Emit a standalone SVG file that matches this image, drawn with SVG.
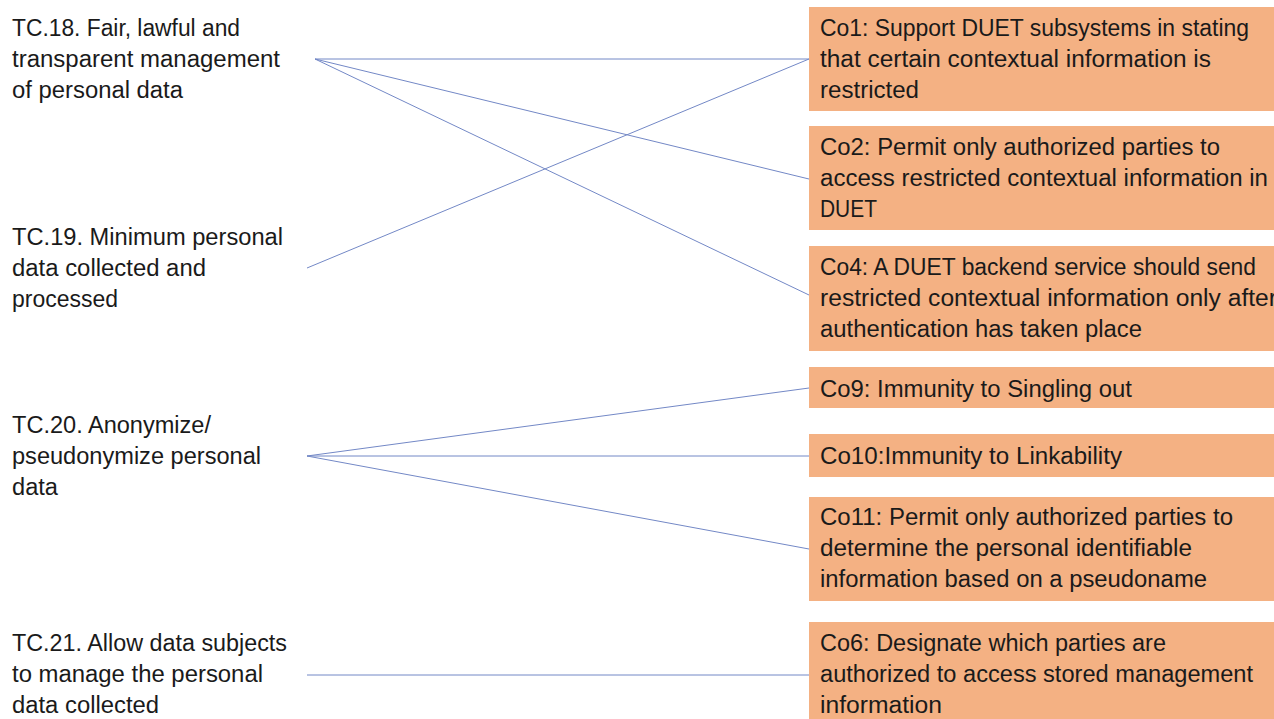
<svg xmlns="http://www.w3.org/2000/svg" width="1274" height="719" viewBox="0 0 1274 719">
<style>
.bg{fill:#ffffff}
.box{fill:#F4B183}
.t{font-family:"Liberation Sans",Arial,sans-serif;font-size:23px;fill:#1a1a1a}
.c{stroke:#7388c6;stroke-width:1;fill:none}
</style>
<rect class="bg" x="0" y="0" width="1274" height="719"/>
<g id="connectors">
<line class="c" x1="315" y1="59" x2="809" y2="59"/>
<line class="c" x1="315" y1="59" x2="809" y2="179"/>
<line class="c" x1="315" y1="59" x2="809" y2="295"/>
<line class="c" x1="307" y1="268" x2="809" y2="59"/>
<line class="c" x1="307" y1="456" x2="809" y2="388"/>
<line class="c" x1="307" y1="456" x2="809" y2="456"/>
<line class="c" x1="307" y1="456" x2="809" y2="549"/>
<line class="c" x1="307" y1="675" x2="809" y2="675"/>
</g>
<g id="tc18">
<text class="t" x="12" y="36" textLength="228" lengthAdjust="spacingAndGlyphs">TC.18. Fair, lawful and</text>
<text class="t" x="12" y="67" textLength="268" lengthAdjust="spacingAndGlyphs">transparent management</text>
<text class="t" x="12" y="98" textLength="171" lengthAdjust="spacingAndGlyphs">of personal data</text>
</g>
<g id="tc19">
<text class="t" x="12" y="245" textLength="271" lengthAdjust="spacingAndGlyphs">TC.19. Minimum personal</text>
<text class="t" x="12" y="276" textLength="194" lengthAdjust="spacingAndGlyphs">data collected and</text>
<text class="t" x="12" y="307" textLength="106" lengthAdjust="spacingAndGlyphs">processed</text>
</g>
<g id="tc20">
<text class="t" x="12" y="433" textLength="199" lengthAdjust="spacingAndGlyphs">TC.20. Anonymize/</text>
<text class="t" x="12" y="464" textLength="249" lengthAdjust="spacingAndGlyphs">pseudonymize personal</text>
<text class="t" x="12" y="495" textLength="46" lengthAdjust="spacingAndGlyphs">data</text>
</g>
<g id="tc21">
<text class="t" x="12" y="651" textLength="275" lengthAdjust="spacingAndGlyphs">TC.21. Allow data subjects</text>
<text class="t" x="12" y="682" textLength="251" lengthAdjust="spacingAndGlyphs">to manage the personal</text>
<text class="t" x="12" y="713" textLength="147" lengthAdjust="spacingAndGlyphs">data collected</text>
</g>
<g id="co1">
<rect class="box" x="809" y="7" width="470" height="104"/>
<text class="t" x="820" y="36" textLength="429" lengthAdjust="spacingAndGlyphs">Co1: Support DUET subsystems in stating</text>
<text class="t" x="820" y="67" textLength="391" lengthAdjust="spacingAndGlyphs">that certain contextual information is</text>
<text class="t" x="820" y="98" textLength="99" lengthAdjust="spacingAndGlyphs">restricted</text>
</g>
<g id="co2">
<rect class="box" x="809" y="126" width="470" height="104"/>
<text class="t" x="820" y="155" textLength="400" lengthAdjust="spacingAndGlyphs">Co2: Permit only authorized parties to</text>
<text class="t" x="820" y="186" textLength="448" lengthAdjust="spacingAndGlyphs">access restricted contextual information in</text>
<text class="t" x="820" y="217" textLength="57" lengthAdjust="spacingAndGlyphs">DUET</text>
</g>
<g id="co4">
<rect class="box" x="809" y="246" width="470" height="105"/>
<text class="t" x="820" y="275" textLength="436" lengthAdjust="spacingAndGlyphs">Co4: A DUET backend service should send</text>
<text class="t" x="820" y="306" textLength="457" lengthAdjust="spacingAndGlyphs">restricted contextual information only after</text>
<text class="t" x="820" y="337" textLength="322" lengthAdjust="spacingAndGlyphs">authentication has taken place</text>
</g>
<g id="co9">
<rect class="box" x="809" y="367" width="470" height="41"/>
<text class="t" x="820" y="397" textLength="312" lengthAdjust="spacingAndGlyphs">Co9: Immunity to Singling out</text>
</g>
<g id="co10">
<rect class="box" x="809" y="434" width="470" height="43"/>
<text class="t" x="820" y="464" textLength="302" lengthAdjust="spacingAndGlyphs">Co10:Immunity to Linkability</text>
</g>
<g id="co11">
<rect class="box" x="809" y="497" width="470" height="104"/>
<text class="t" x="820" y="525" textLength="413" lengthAdjust="spacingAndGlyphs">Co11: Permit only authorized parties to</text>
<text class="t" x="820" y="556" textLength="372" lengthAdjust="spacingAndGlyphs">determine the personal identifiable</text>
<text class="t" x="820" y="587" textLength="387" lengthAdjust="spacingAndGlyphs">information based on a pseudoname</text>
</g>
<g id="co6">
<rect class="box" x="809" y="622" width="470" height="100"/>
<text class="t" x="820" y="651" textLength="346" lengthAdjust="spacingAndGlyphs">Co6: Designate which parties are</text>
<text class="t" x="820" y="682" textLength="433" lengthAdjust="spacingAndGlyphs">authorized to access stored management</text>
<text class="t" x="820" y="713" textLength="122" lengthAdjust="spacingAndGlyphs">information</text>
</g>
</svg>
